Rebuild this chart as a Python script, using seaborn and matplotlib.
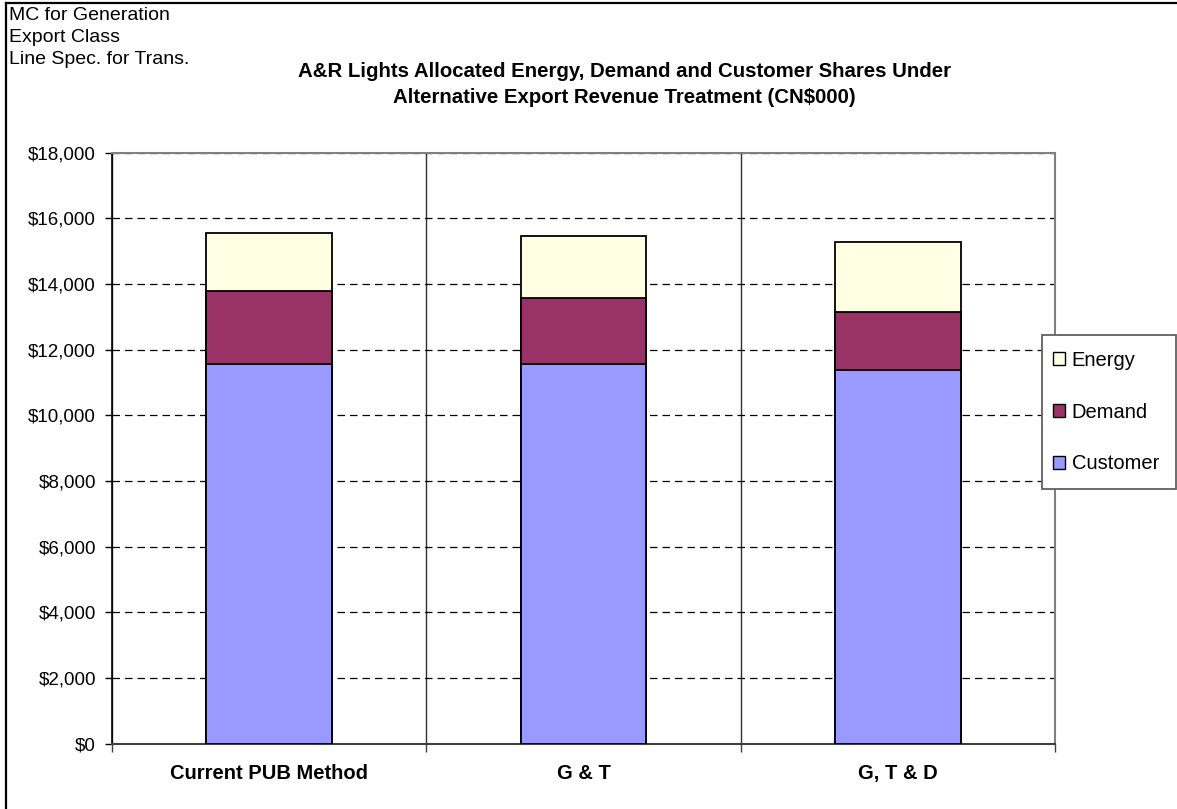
import matplotlib
matplotlib.use("Agg")
import matplotlib.pyplot as plt
import seaborn as sns
import pandas as pd
from matplotlib.patches import Patch, Rectangle
from matplotlib.lines import Line2D
from matplotlib.ticker import FuncFormatter, MultipleLocator

# ---- data ----
categories = ["Current PUB Method", "G & T", "G, T & D"]
customer = [11570, 11570, 11380]
demand = [2230, 1990, 1760]
energy = [1760, 1910, 2140]
series_names = ["Energy", "Demand", "Customer"]
colors = {"Energy": "#FFFFE4", "Demand": "#993366", "Customer": "#9999FF"}

note_lines = ["MC for Generation", "Export Class", "Line Spec. for Trans."]
title_lines = ["A&R Lights Allocated Energy, Demand and Customer Shares Under",
               "Alternative Export Revenue Treatment (CN$000)"]

plt.rcParams["font.family"] = ["Liberation Sans", "DejaVu Sans"]

df = pd.DataFrame({"category": categories, "Customer": customer,
                   "Demand": demand, "Energy": energy})
df["top_customer"] = df["Customer"]
df["top_demand"] = df["Customer"] + df["Demand"]
df["top_energy"] = df["Customer"] + df["Demand"] + df["Energy"]

W, H = 1177, 809
fig = plt.figure(figsize=(W / 100, H / 100), dpi=100)
ax = fig.add_axes([112 / W, 1 - 743.5 / H, (1055 - 112) / W, (743.5 - 152.7) / H])

for col, name in [("top_energy", "Energy"), ("top_demand", "Demand"), ("top_customer", "Customer")]:
    sns.barplot(data=df, x="category", y=col, color=colors[name], width=0.4,
                edgecolor="black", linewidth=1.3, saturation=1, ax=ax, zorder=3)

ax.set_xlim(-0.5, 2.5)
ax.set_ylim(0, 18000)
ax.set_xlabel("")
ax.set_ylabel("")

# y axis
ax.yaxis.set_major_locator(MultipleLocator(2000))
ax.yaxis.set_major_formatter(FuncFormatter(lambda v, p: f"${v:,.0f}"))
ax.tick_params(axis="y", direction="out", length=5, width=1, pad=6.5, labelsize=13.5, colors="black")
ax.yaxis.grid(True, linestyle=(0, (6, 4)), color="black", linewidth=0.9)

# x axis: category boundaries as minor ticks / grid
ax.set_xticks([-0.5, 0.5, 1.5, 2.5], minor=True)
ax.tick_params(axis="x", which="minor", direction="out", length=5.5, width=1, color="#404040")
ax.tick_params(axis="x", which="major", length=0, pad=15, labelsize=14.5)
for lab in ax.get_xticklabels():
    lab.set_fontweight("bold")
ax.xaxis.grid(True, which="minor", color="#303030", linestyle="-", linewidth=1)
ax.xaxis.grid(False, which="major")
ax.set_axisbelow(True)

for side in ["top", "right"]:
    ax.spines[side].set_color("#808080")
    ax.spines[side].set_linewidth(1.5)
ax.spines["left"].set_color("black")
ax.spines["left"].set_linewidth(1.2)
ax.spines["bottom"].set_color("#404040")
ax.spines["bottom"].set_linewidth(1.5)

# legend frame + legend
fig.add_artist(Rectangle((1042 / W, 1 - 489 / H), 134 / W, 154 / H, transform=fig.transFigure,
                         facecolor="white", edgecolor="#606060", linewidth=1.3, zorder=4))
handles = [Patch(facecolor=colors[n], edgecolor="black", linewidth=1) for n in series_names]
leg = fig.legend(handles, series_names, loc="upper left",
                 bbox_to_anchor=(1053 / W, 1 - 351 / H), bbox_transform=fig.transFigure,
                 borderaxespad=0, borderpad=0, fontsize=14.5, handlelength=0.62, handleheight=0.62,
                 handletextpad=0.3, labelspacing=1.62, frameon=False)
leg.set_zorder(5)

# texts
for i, line in enumerate(note_lines):
    fig.text(9 / W, 1 - (20 + 22 * i) / H, line, fontsize=14, ha="left", va="baseline")
for i, line in enumerate(title_lines):
    fig.text(624 / W, 1 - (77 + 26 * i) / H, line, fontsize=14.7, fontweight="bold",
             ha="center", va="baseline")

# partial outer frame (top and left)
fig.add_artist(Line2D([5.5 / W, 5.5 / W], [0, 1 - 2.5 / H], color="black", linewidth=1.6,
                      transform=fig.transFigure))
fig.add_artist(Line2D([5.5 / W, 1], [1 - 2.5 / H, 1 - 2.5 / H], color="black", linewidth=1.6,
                      transform=fig.transFigure))

fig.savefig("out.png", dpi=100)
